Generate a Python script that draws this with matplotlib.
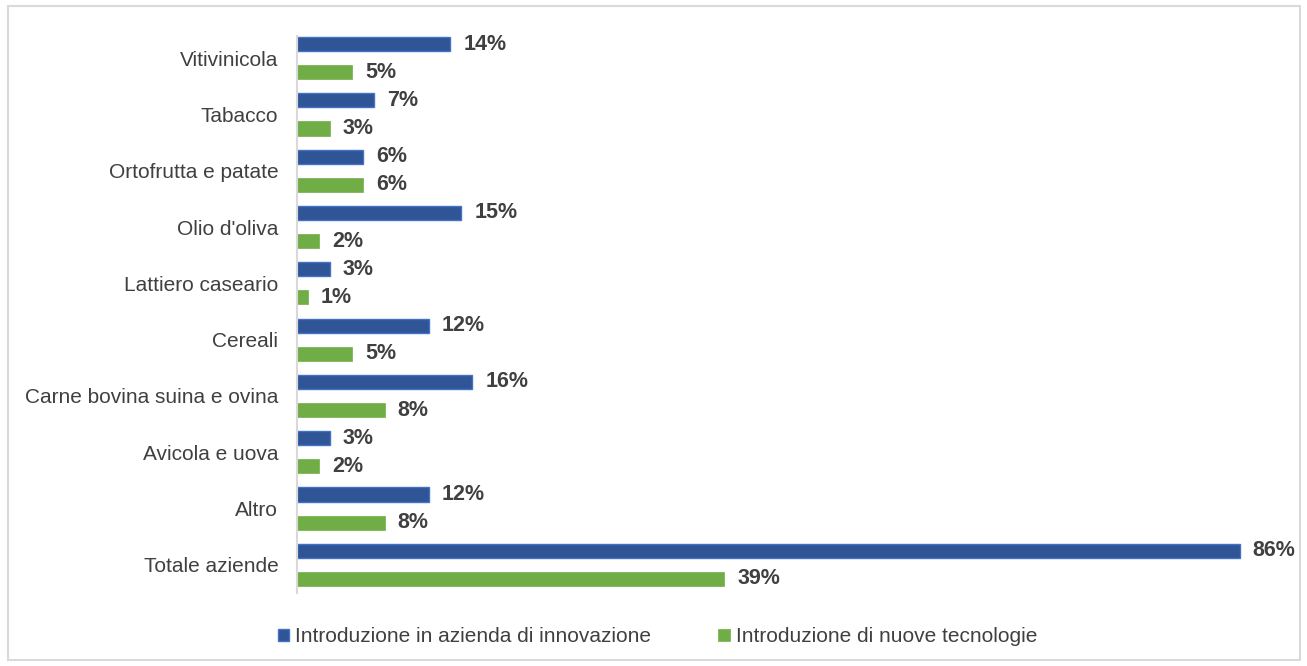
import matplotlib.pyplot as plt
import numpy as np
from matplotlib.patches import Rectangle

plt.rcParams['font.family'] = ['Liberation Sans', 'DejaVu Sans']

categorie = ['Vitivinicola', 'Tabacco', 'Ortofrutta e patate', "Olio d'oliva",
             'Lattiero caseario', 'Cereali', 'Carne bovina suina e ovina',
             'Avicola e uova', 'Altro', 'Totale aziende']
innovazione = [14, 7, 6, 15, 3, 12, 16, 3, 12, 86]
tecnologie = [5, 3, 6, 2, 1, 5, 8, 2, 8, 39]
serie = ['Introduzione in azienda di innovazione', 'Introduzione di nuove tecnologie']

blu = '#2F5597'
verde = '#70AD47'
grigio = '#404040'

fig = plt.figure(figsize=(13.07, 6.66), dpi=100)
ax = fig.add_axes([297 / 1307, 1 - 593 / 666, (1290 - 297) / 1307, (593 - 30) / 666])

y = np.arange(len(categorie))
h = 0.25
b1 = ax.barh(y - h, innovazione, height=h, color=blu, edgecolor='#4472C4', linewidth=1,
             label=serie[0])
b2 = ax.barh(y + h, tecnologie, height=h, color=verde, edgecolor=verde, linewidth=0.5,
             label=serie[1])

for bars, vals in ((b1, innovazione), (b2, tecnologie)):
    for bar, v in zip(bars, vals):
        ax.text(bar.get_width() + 1.2, bar.get_y() + bar.get_height() / 2, f'{v}%',
                va='center', ha='left', fontsize=15.5, fontweight='bold', color=grigio)

ax.set_ylim(len(categorie) - 0.5, -0.5)
ax.set_xlim(0, 90.6)
ax.set_yticks(y)
ax.set_yticklabels(categorie, fontsize=15, color=grigio)
ax.tick_params(axis='y', length=0, pad=13.5)
ax.set_xticks([])
for s in ('top', 'right', 'bottom'):
    ax.spines[s].set_visible(False)
ax.spines['left'].set_color('#D9D9D9')
ax.spines['left'].set_linewidth(1.5)
ax.spines['left'].set_bounds(len(categorie) - 0.5, -0.4)

fig.legend(handles=[b1, b2], labels=serie, loc='center', bbox_to_anchor=(0.503, 1 - 637 / 666),
           ncol=2, frameon=False, fontsize=15, labelcolor=grigio, handlelength=0.55,
           handleheight=0.55, handletextpad=0.3, columnspacing=3.2)

fig.patches.append(Rectangle((8 / 1307, 6 / 666), 1292 / 1307, 654 / 666,
                             transform=fig.transFigure, fill=False,
                             edgecolor='#D9D9D9', linewidth=1.5))

plt.savefig('out.png', dpi=100)
